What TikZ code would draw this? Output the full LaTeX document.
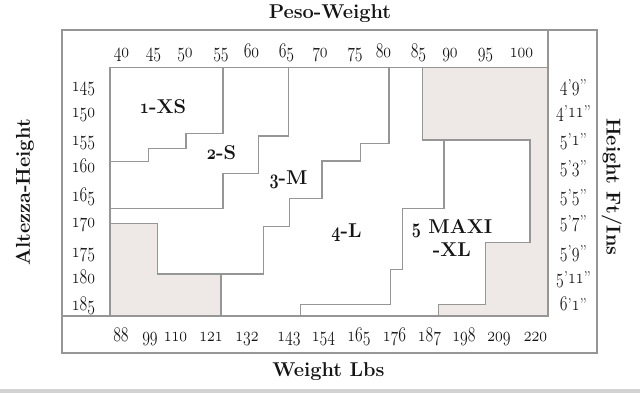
\documentclass[tikz,border=0pt]{standalone}
\usepackage{graphicx}
\usepackage{tikz}
\usetikzlibrary{positioning,calc}
\definecolor{gridgray}{RGB}{150,150,150}
\definecolor{sparefill}{RGB}{238,232,230}
\definecolor{inkdark}{RGB}{20,20,20}
\tikzset{
  every picture/.append style={line width=1.8pt},
  every node/.append style={text=inkdark, inner sep=0pt},
}
\tikzset{
  bound/.style={draw=gridgray, line cap=rect},
  spare/.style={fill=sparefill, draw=gridgray},
  numlab/.style={font=\fontsize{17}{18}\selectfont, anchor=base},
  sizelab/.style={font=\fontsize{20}{23}\selectfont\bfseries, align=center},
  axtitle/.style={font=\fontsize{20}{22}\selectfont\bfseries}
}
% old-style figures, a bit narrowed
\makeatletter
\newcommand{\osn}[1]{{\fontsize{20.74}{22}\usefont{OML}{cmm}{\f@series}{it}\scalebox{0.76}[1]{#1}}}
\makeatother
\newcommand{\ftin}[2]{\osn{#1}\textquoteright\osn{#2}\textquotedblright}

\begin{document}
\begin{tikzpicture}[x=1pt, y=-1pt]
\useasboundingbox (0,0) rectangle (640,393);
\fill[gray!35] (0,389) rectangle (640,393);

% Shaded corners (no size)
\path[spare] (110,223.5) -- (157.5,223.5) -- (157.5,274) -- (221,274) -- (221,316) -- (110,316) -- cycle;
\path[spare] (422.5,67.5) -- (548,67.5) -- (548,316) -- (438.5,316) -- (438.5,304.5) -- (485.5,304.5)
  -- (485.5,242.5) -- (530,242.5) -- (530,140) -- (422.5,140) -- cycle;

% Frames
\draw[bound] (62,30) rectangle (597,353);
\draw[bound] (110,316) -- (110,67.5) -- (548,67.5);
\draw[bound] (548,30) -- (548,316);
\draw[bound] (62,316) -- (548,316);

% Size boundaries (staircases)
\draw[bound] (223,67.5) -- (223,133.5) -- (186,133.5) -- (186,148.5) -- (148.5,148.5) -- (148.5,161.5) -- (110,161.5);
\draw[bound] (288.5,67.5) -- (288.5,136) -- (258.5,136) -- (258.5,173.5) -- (223,173.5) -- (223,208.5) -- (110,208.5);
\draw[bound] (389,67.5) -- (389,143.5) -- (360.5,143.5) -- (360.5,161) -- (322,161) -- (322,198.5)
  -- (289.5,198.5) -- (289.5,226.5) -- (263.5,226.5) -- (263.5,274) -- (157.5,274);
\draw[bound] (444,140) -- (444,208.5) -- (402.5,208.5) -- (402.5,269.5) -- (390.5,269.5) -- (390.5,304.5)
  -- (300.5,304.5) -- (300.5,316);

% Size labels
\node[sizelab] (xs) at (163,106.5) {\osn{1}-XS};
\node[sizelab] (s) at (221.5,152.5) {\osn{2}-S};
\node[sizelab] (m) at (288.5,180) {\osn{3}-M};
\node[sizelab] (l) at (346.5,233) {\osn{4}-L};
\node[sizelab] (xl) at (452,238) {\osn{5} MAXI\\-XL};

% Weight (kg) along the top
\foreach \w/\x in {40/121.5,45/153.5,50/185,55/221,60/251.5,65/286.5,70/320,75/355,80/383.5,85/418.5,90/450,95/485.5,100/521.5}
  \node[numlab] (w\w) at (\x,57.5) {\osn{\w}};

% Weight (lbs) along the bottom
\foreach \p/\x in {88/121,99/150,110/175.5,121/211,132/247,143/289,154/323.5,165/359,176/394.5,187/429.5,198/464,209/499,220/535.5}
  \node[numlab] (lb\p) at (\x,341.5) {\osn{\p}};

% Heights (cm left, ft/in right)
\foreach \h/\f/\i/\y in {145/4/9/91.5,150/4/11/118,155/5/1/146,160/5/3/172,165/5/5/201.5,170/5/7/227.5,175/5/9/257,180/5/11/283.5,185/6/1/310.5} {
  \node[numlab] (h\h) at (83.5,\y) {\osn{\h}};
  \node[numlab] (f\h) at (573.5,\y) {\ftin{\f}{\i}};
}

% Axis titles
\node[axtitle] (peso) at (330,13.5) {Peso-Weight};
\node[axtitle] (lbs) at (328.5,371.5) {Weight Lbs};
\node[axtitle, rotate=90] (altezza) at (25,192.5) {Altezza-Height};
\node[axtitle, rotate=-90] (ftins) at (611.5,187) {Height Ft/Ins};
\end{tikzpicture}
\end{document}
